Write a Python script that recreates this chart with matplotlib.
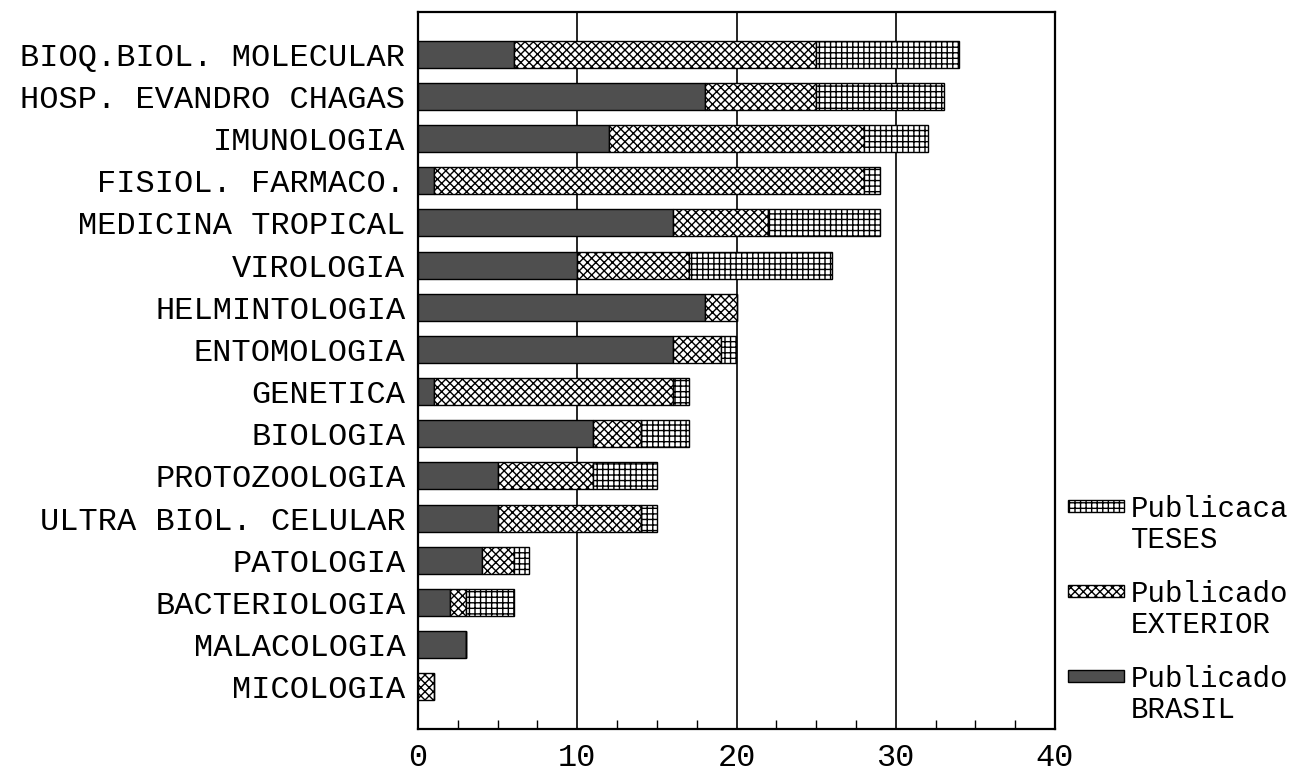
import numpy as np
import matplotlib
matplotlib.use("Agg")
import matplotlib.pyplot as plt
from matplotlib.patches import Rectangle
from matplotlib.ticker import MultipleLocator

# dados (publicacoes por departamento)
departamentos = ["BIOQ.BIOL. MOLECULAR", "HOSP. EVANDRO CHAGAS", "IMUNOLOGIA",
                 "FISIOL. FARMACO.", "MEDICINA TROPICAL", "VIROLOGIA",
                 "HELMINTOLOGIA", "ENTOMOLOGIA", "GENETICA", "BIOLOGIA",
                 "PROTOZOOLOGIA", "ULTRA BIOL. CELULAR", "PATOLOGIA",
                 "BACTERIOLOGIA", "MALACOLOGIA", "MICOLOGIA"]
brasil = [6, 18, 12, 1, 16, 10, 18, 16, 1, 11, 5, 5, 4, 2, 3, 0]
exterior = [19, 7, 16, 27, 6, 7, 2, 3, 15, 3, 6, 9, 2, 1, 0, 1]
teses = [9, 8, 4, 1, 7, 9, 0, 1, 1, 3, 4, 1, 1, 3, 0, 0]
xticks = [0, 10, 20, 30, 40]

# texto da legenda como aparece (cortado na borda da folha)
legenda = [("Publicaca", "TESES"),
           ("Publicado", "EXTERIOR"),
           ("Publicado", "BRASIL")]

W, H = 1294, 775
fonte = "Liberation Mono"
plt.rcParams['hatch.linewidth'] = 1.0
plt.rcParams['font.family'] = [fonte, 'DejaVu Sans Mono']

fig = plt.figure(figsize=(W / 100, H / 100), dpi=100)
ax = fig.add_axes([418 / W, 1 - 729 / H, 637 / W, 717 / H])

y = np.arange(len(departamentos))
b = np.array(brasil)
e = np.array(exterior)
t = np.array(teses)
alt = 0.64
cinza = '#4f4f4f'

ax.barh(y, b, height=alt, color=cinza, edgecolor='black', linewidth=1.0, zorder=3)
ax.barh(y, e, left=b, height=alt, color='white', edgecolor='black',
        hatch='xxxx', linewidth=1.0, zorder=3)
ax.barh(y, t, left=b + e, height=alt, color='white', edgecolor='black',
        hatch='+++', linewidth=1.0, zorder=3)

ax.set_xlim(0, 40)
ax.set_ylim(16, -1)
ax.set_xticks(xticks)
ax.set_xticklabels([str(v) for v in xticks], fontsize=23)
ax.xaxis.set_minor_locator(MultipleLocator(2.5))
ax.tick_params(axis='x', which='major', length=0, pad=10)
ax.tick_params(axis='x', which='minor', direction='in', length=6.5, width=1.0)
ax.set_yticks(y)
ax.set_yticklabels(departamentos, fontsize=23)
ax.tick_params(axis='y', length=0, pad=9)

for gx in xticks[1:-1]:
    ax.axvline(gx, color='black', linewidth=1.2, zorder=1)

for s in ax.spines.values():
    s.set_linewidth(1.6)

# legenda desenhada a mao, alinhada com a primeira linha do texto
estilos = [dict(facecolor='white', hatch='+++'),
           dict(facecolor='white', hatch='xxxx'),
           dict(facecolor=cinza)]
base = [517, 602, 687]
for (l1, l2), st, yb in zip(legenda, estilos, base):
    r = Rectangle((1068 / W, 1 - (yb - 5) / H), 56 / W, 12 / H,
                  transform=fig.transFigure, edgecolor='black', linewidth=1.0, **st)
    fig.add_artist(r)
    fig.text(1131 / W, 1 - yb / H, l1, fontsize=21, va='baseline', ha='left')
    fig.text(1131 / W, 1 - (yb + 31) / H, l2, fontsize=21, va='baseline', ha='left')

fig.savefig("out.png", dpi=100, facecolor='white')
